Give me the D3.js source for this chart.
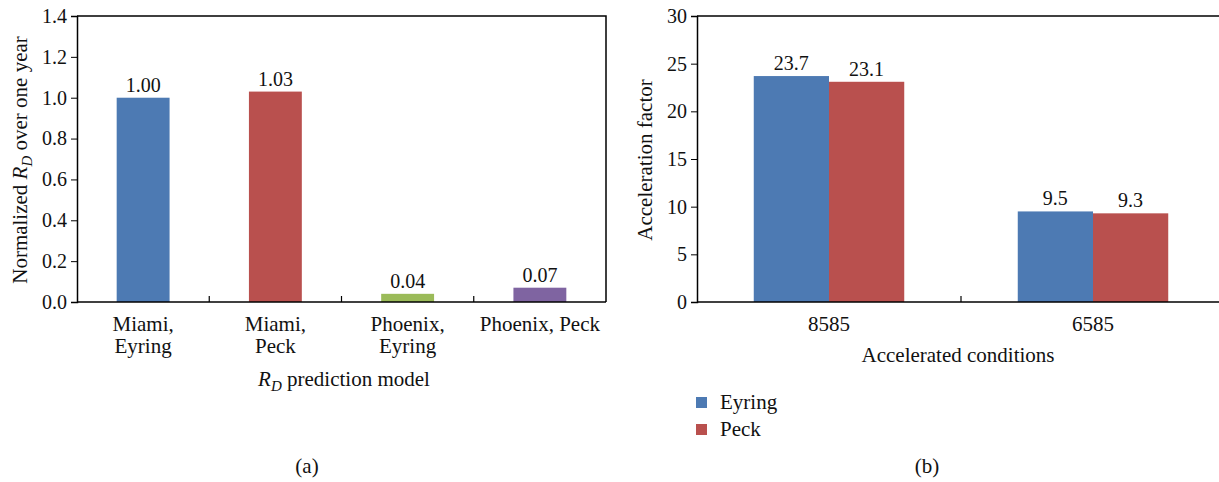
<!DOCTYPE html>
<html>
<head>
<meta charset="utf-8">
<script src="https://cdn.jsdelivr.net/npm/d3@7"></script>
<style>
  body { margin: 0; background: #fff; }
  svg { display: block; }
  text { font-family: "Liberation Serif", "Times New Roman", serif; fill: #111; }
</style>
</head>
<body>
<svg width="1219" height="482"></svg>
<script>
// panel (a) data
var modelsA = [["Miami,", "Eyring"], ["Miami,", "Peck"], ["Phoenix,", "Eyring"], ["Phoenix, Peck"]];
var valuesA = [1.00, 1.03, 0.04, 0.07];
var labelsA = ["1.00", "1.03", "0.04", "0.07"];
var colorsA = ["#4d7ab3", "#b9504e", "#9bbb59", "#7f64a1"];
var ticksA = [0, 0.2, 0.4, 0.6, 0.8, 1.0, 1.2, 1.4];

// panel (b) data
var conditions = ["8585", "6585"];
var seriesB = ["Eyring", "Peck"];
var eyring = [23.7, 9.5];
var peck = [23.1, 9.3];
var colorsB = ["#4d7ab3", "#b9504e"];
var ticksB = [0, 5, 10, 15, 20, 25, 30];

var svg = d3.select("svg"),
  fs = 20,
  fc = 21; // category labels look a bit bigger

// ---------- panel (a)
var ga = svg.append("g");
var xa = d3.scaleBand().domain(d3.range(modelsA.length)).range([77, 606]),
  ya = d3.scaleLinear().domain([0, 1.4]).range([302, 16]);

ga.selectAll("rect").data(valuesA).enter().append("rect")
  .attr("x", function(d, i) { return xa(i) + xa.bandwidth() * 0.3; })
  .attr("width", xa.bandwidth() * 0.4)
  .attr("y", function(d) { return ya(d); })
  .attr("height", function(d) { return ya(0) - ya(d); })
  .attr("fill", function(d, i) { return colorsA[i]; });

ga.selectAll(".val").data(valuesA).enter().append("text")
  .attr("x", function(d, i) { return xa(i) + xa.bandwidth() / 2; })
  .attr("y", function(d) { return ya(d) - 6; })
  .attr("text-anchor", "middle").style("font-size", fs + "px")
  .text(function(d, i) { return labelsA[i]; });

// box
ga.append("path").attr("d", "M77,16H606V302").attr("fill", "none").attr("stroke", "#000").attr("stroke-width", 1.5);

var axA = ga.append("g").attr("transform", "translate(77,0)")
  .call(d3.axisLeft(ya).tickValues(ticksA).tickFormat(d3.format(".1f")).tickSize(6).tickPadding(4));
axA.select(".domain").attr("stroke-width", 1.5);
axA.selectAll("text").style("font-size", fs + "px").attr("font-family", null).attr("fill", "#111");

ga.append("line").attr("x1", 77).attr("x2", 606).attr("y1", 302).attr("y2", 302).attr("stroke", "#000").attr("stroke-width", 1.5);
// dividing ticks between categories
d3.range(1, modelsA.length).forEach(function(i) {
  ga.append("line").attr("x1", xa(i)).attr("x2", xa(i)).attr("y1", 302).attr("y2", 296).attr("stroke", "#000").attr("stroke-width", 1.2);
});

// two-line category labels, one text each line
modelsA.forEach(function(lines, i) {
  lines.forEach(function(l, j) {
    ga.append("text").attr("text-anchor", "middle").style("font-size", fc + "px")
      .attr("x", xa(i) + xa.bandwidth() / 2).attr("y", 331 + j * 22).text(l);
  });
});

var xl = ga.append("text").attr("x", 344).attr("y", 386).attr("text-anchor", "middle").style("font-size", fc + "px");
xl.append("tspan").style("font-style", "italic").text("R");
xl.append("tspan").style("font-style", "italic").style("font-size", "15px").attr("dy", 5).text("D");
xl.append("tspan").attr("dy", -5).text(" prediction model");

var yl = ga.append("text").attr("transform", "translate(27,160) rotate(-90)").attr("text-anchor", "middle").style("font-size", fc + "px");
yl.append("tspan").text("Normalized ");
yl.append("tspan").style("font-style", "italic").text("R");
yl.append("tspan").style("font-style", "italic").style("font-size", "15px").attr("dy", 5).text("D");
yl.append("tspan").attr("dy", -5).text(" over one year");

ga.append("text").attr("x", 307).attr("y", 473).attr("text-anchor", "middle").style("font-size", fc + "px").text("(a)");

// ---------- panel (b)
var gb = svg.append("g");
var xb = d3.scaleBand().domain(conditions).range([697, 1225]),
  xs = d3.scaleBand().domain(seriesB).range([0, xb.bandwidth() * 0.57]),
  yb = d3.scaleLinear().domain([0, 30]).range([302, 16]);
var rowsB = conditions.map(function(c, i) { return { c: c, v: [eyring[i], peck[i]] }; });

var grp = gb.selectAll(".grp").data(rowsB).enter().append("g")
  .attr("transform", function(d) { return "translate(" + (xb(d.c) + xb.bandwidth() * 0.215) + ",0)"; });
grp.selectAll("rect").data(function(d) { return d.v; }).enter().append("rect")
  .attr("x", function(d, i) { return xs(seriesB[i]); })
  .attr("width", xs.bandwidth())
  .attr("y", function(d) { return yb(d); })
  .attr("height", function(d) { return yb(0) - yb(d); })
  .attr("fill", function(d, i) { return colorsB[i]; });
grp.selectAll("text").data(function(d) { return d.v; }).enter().append("text")
  .attr("x", function(d, i) { return xs(seriesB[i]) + xs.bandwidth() / 2; })
  .attr("y", function(d) { return yb(d) - 6; })
  .attr("text-anchor", "middle").style("font-size", fs + "px")
  .text(function(d) { return d.toFixed(1); });

gb.append("line").attr("x1", 697).attr("x2", 1225).attr("y1", 16).attr("y2", 16).attr("stroke", "#000").attr("stroke-width", 1.5);
var axB = gb.append("g").attr("transform", "translate(697,0)")
  .call(d3.axisLeft(yb).tickValues(ticksB).tickSize(6).tickPadding(4));
axB.select(".domain").attr("stroke-width", 1.5);
axB.selectAll("text").style("font-size", fs + "px").attr("font-family", null).attr("fill", "#111");
gb.append("line").attr("x1", 697).attr("x2", 1225).attr("y1", 302).attr("y2", 302).attr("stroke", "#000").attr("stroke-width", 1.5);
gb.append("line").attr("x1", xb("6585")).attr("x2", xb("6585")).attr("y1", 302).attr("y2", 296).attr("stroke", "#000").attr("stroke-width", 1.2);

gb.selectAll(".cat").data(conditions).enter().append("text")
  .attr("x", function(d) { return xb(d) + xb.bandwidth() / 2; })
  .attr("y", 331).attr("text-anchor", "middle").style("font-size", fc + "px")
  .text(function(d) { return d; });

gb.append("text").attr("x", 958).attr("y", 362).attr("text-anchor", "middle").style("font-size", fc + "px").text("Accelerated conditions");
gb.append("text").attr("transform", "translate(652,160) rotate(-90)").attr("text-anchor", "middle").style("font-size", fc + "px").text("Acceleration factor");

// legend
seriesB.forEach(function(s, i) {
  gb.append("rect").attr("x", 696).attr("y", 397 + i * 27).attr("width", 11).attr("height", 11).attr("fill", colorsB[i]);
  gb.append("text").attr("x", 720).attr("y", 409 + i * 27).style("font-size", fc + "px").text(s);
});

gb.append("text").attr("x", 927).attr("y", 473).attr("text-anchor", "middle").style("font-size", fc + "px").text("(b)");
</script>
</body>
</html>
